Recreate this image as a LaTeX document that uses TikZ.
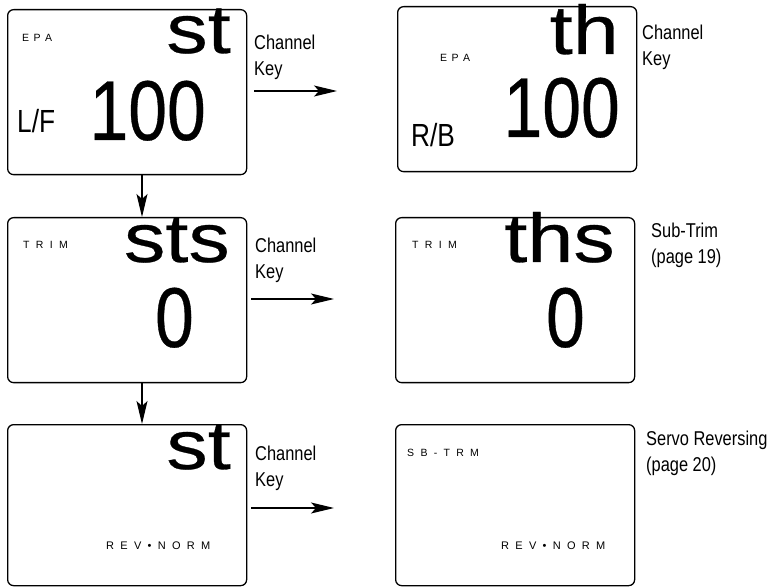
\documentclass[tikz,border=0pt]{standalone}
\usepackage{fontspec}
\setmainfont{Liberation Sans}
\newfontfamily\narrowf[FakeStretch=0.82]{Liberation Sans}
\newfontfamily\narrowbf[FakeStretch=0.82,FakeBold=0.4]{Liberation Sans}
\newfontfamily\widef[FakeStretch=1.2,FakeBold=0.4]{Liberation Sans}
\usetikzlibrary{arrows.meta}
\newcommand\lsgapa{\hspace{4.5pt}}
\newcommand\lsgapb{\hspace{6.3pt}}
\begin{document}
\begin{tikzpicture}[x=1pt,y=-1pt,
  screen/.style={draw, line width=1.3pt, rounded corners=6pt, minimum width=239pt, minimum height=165pt, inner sep=0pt, anchor=north west},
  big/.style={font=\widef\fontsize{69}{69}\selectfont, inner sep=0pt, anchor=base east},
  num/.style={font=\narrowbf\fontsize{85}{85}\selectfont, inner sep=0pt, anchor=base east},
  side/.style={font=\narrowf\fontsize{32}{32}\selectfont, inner sep=0pt, anchor=base west},
  tiny/.style={font=\fontsize{10.5}{10.5}\selectfont, inner sep=0pt, anchor=base west},
  tinyb/.style={font=\fontsize{11}{11}\selectfont, inner sep=0pt, anchor=base west},
  lbl/.style={font=\narrowf\fontsize{20}{26}\selectfont, align=left, inner sep=0pt, anchor=base west},
  arr/.style={line width=1.1pt, -{Stealth[length=23pt, width=11pt, inset=5pt]}}]
\useasboundingbox (0,0) rectangle (772,588);
% screens
\node[screen] (b1) at (7,9) {};
\node[screen] (b2) at (397,6) {};
\node[screen] (b3) at (7,217) {};
\node[screen] (b4) at (395,217) {};
\node[screen, minimum height=161pt] (b5) at (7,424) {};
\node[screen, minimum height=161pt] (b6) at (395,424) {};
% box 1
\node[tiny] (epa1) at (22,42) {E\lsgapa P\lsgapa A};
\node[big] (st1) at (231,53) {st};
\node[num] (v1) at (206,140) {100};
\node[side] (lf) at (17,133) {L/F};
% box 2
\node[tiny] (epa2) at (440,62) {E\lsgapa P\lsgapa A};
\node[big] (th2) at (619,54) {th};
\node[num] (v2) at (620,137) {100};
\node[side] (rb) at (411,147) {R/B};
% box 3
\node[tiny] (trim3) at (23,249) {T\lsgapb R\lsgapb I\lsgapb M};
\node[big] (sts3) at (230,262) {sts};
\node[num] (z3) at (194,347) {0};
% box 4
\node[tiny] (trim4) at (412,249) {T\lsgapb R\lsgapb I\lsgapb M};
\node[big] (ths4) at (615,262) {ths};
\node[num] (z4) at (585,347) {0};
% box 5
\node[big] (st5) at (231,469) {st};
\node[tinyb] (rev5) at (106,549) {R\lsgapb E\lsgapb V\lsgapb •\lsgapb N\lsgapb O\lsgapb R\lsgapb M};
% box 6
\node[tiny] (sb6) at (407,456) {S\lsgapb B\lsgapb -\lsgapb T\lsgapb R\lsgapb M};
\node[tinyb] (rev6) at (501,549) {R\lsgapb E\lsgapb V\lsgapb •\lsgapb N\lsgapb O\lsgapb R\lsgapb M};
% labels (anchor = baseline of the second line)
\node[lbl] (ck1) at (254,76) {Channel\\Key};
\node[lbl] (ck2) at (642,66) {Channel\\Key};
\node[lbl] (ck3) at (255,279) {Channel\\Key};
\node[lbl] (ck5) at (255,486) {Channel\\Key};
\node[lbl] (sub4) at (651,264) {Sub-Trim\\(page 19)};
\node[lbl] (servo6) at (646,471) {Servo Reversing\\(page 20)};
% arrows
\coordinate (a1s) at (254,91);
\coordinate (a1e) at (337,91);
\coordinate (a3s) at (251,299);
\coordinate (a3e) at (334,299);
\coordinate (a5s) at (251,508);
\coordinate (a5e) at (334,508);
\coordinate (vx) at (142,0);
\draw[arr] (a1s) -- (a1e);
\draw[arr] (a3s) -- (a3e);
\draw[arr] (a5s) -- (a5e);
\draw[arr] (b1.south -| vx) -- (b3.north -| vx);
\draw[arr] (b3.south -| vx) -- (b5.north -| vx);
\end{tikzpicture}
\end{document}
